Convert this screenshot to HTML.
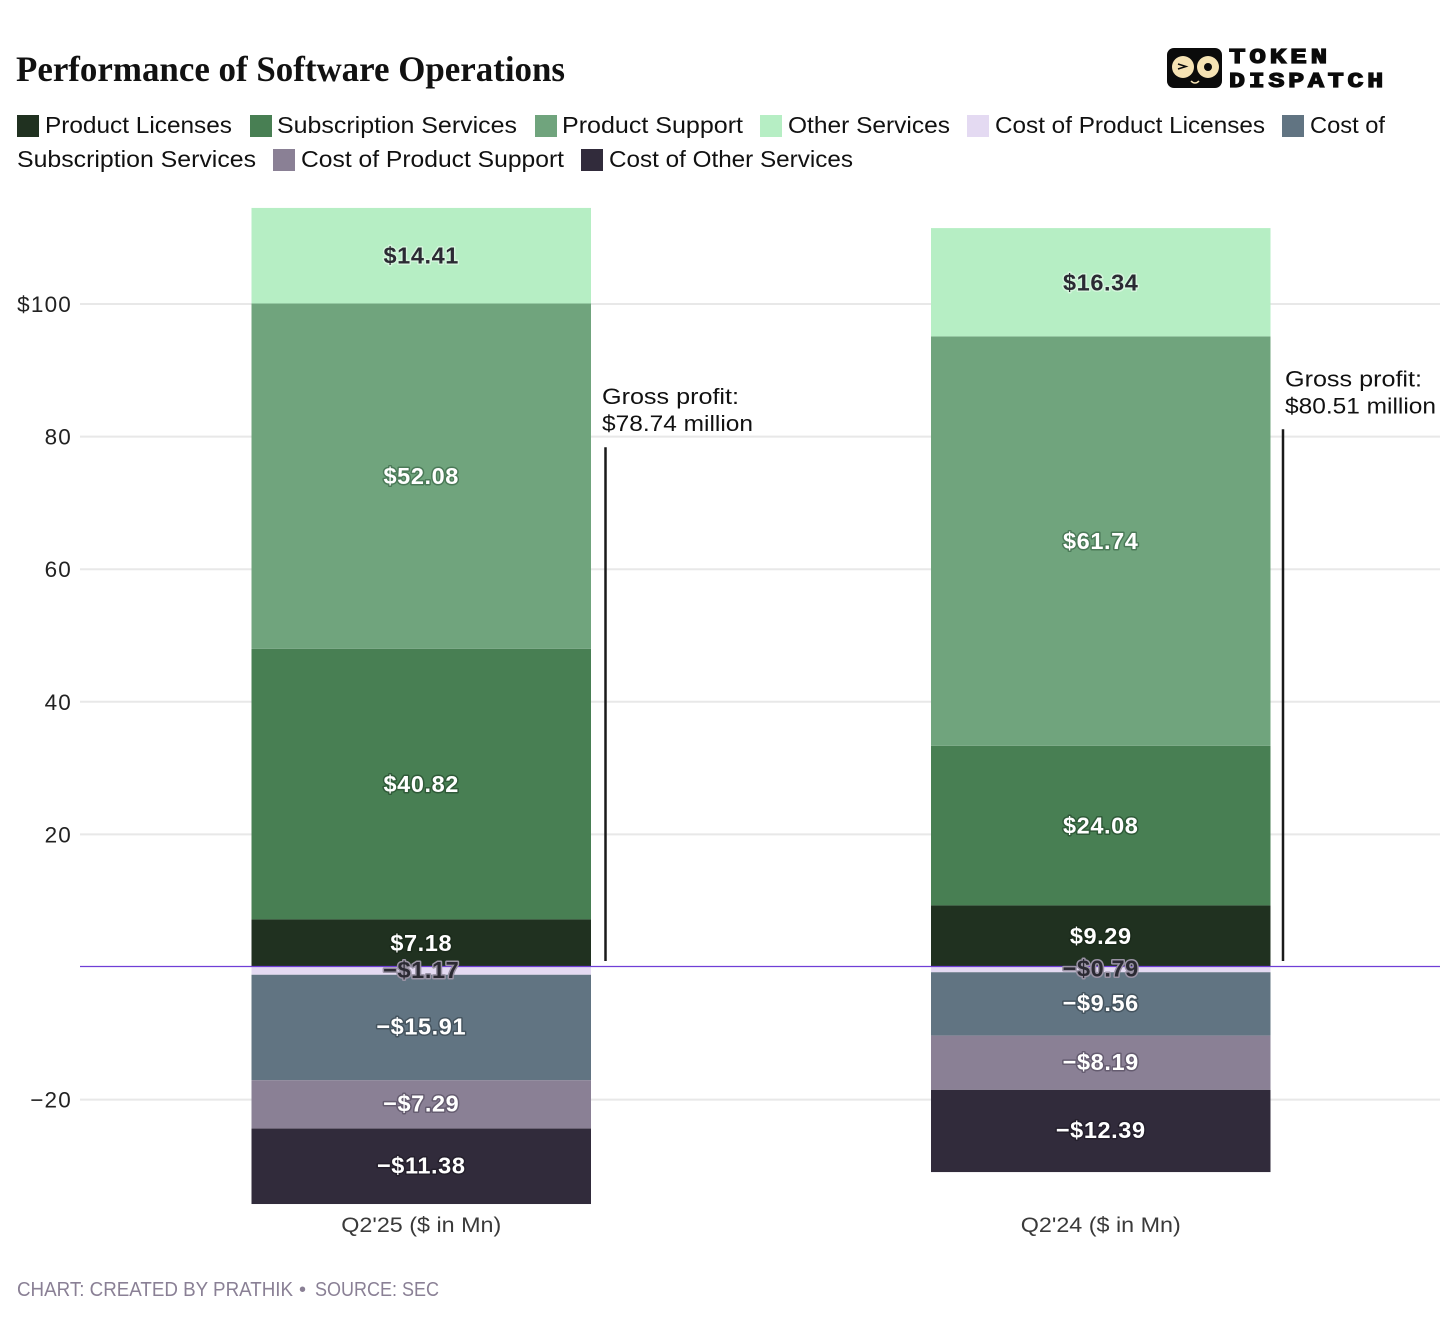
<!DOCTYPE html>
<html lang="en">
<head>
<meta charset="utf-8">
<title>Performance of Software Operations</title>
<style>
html,body{margin:0;padding:0;background:#fff;width:1456px;height:1332px;overflow:hidden}
svg{display:block}
text{font-family:"Liberation Sans",sans-serif}
.legend-text{font-size:23px;fill:#111}
.tick{font-size:22.5px;fill:#222;text-anchor:end;letter-spacing:1.2px}
.cat{font-size:21.5px;fill:#3a3a3a;text-anchor:middle}
.note{font-size:22.5px;fill:#111}
.seg-label{font-size:23.5px;font-weight:700;text-anchor:middle;paint-order:stroke;stroke-width:3px;stroke-linejoin:round;letter-spacing:.6px}
.logo-word{font-family:"Liberation Mono",monospace;font-weight:700;font-size:21px;fill:#0b0b0b;stroke:#0b0b0b;stroke-width:1.2px;letter-spacing:3px}
</style>
</head>
<body>
<svg id="chart" xmlns="http://www.w3.org/2000/svg" width="1456" height="1332" viewBox="0 0 1456 1332">
  <rect width="1456" height="1332" fill="#fff"/>
  <text x="16" y="81" textLength="549" lengthAdjust="spacingAndGlyphs" style="font-family:'Liberation Serif',serif;font-weight:700;font-size:36px;fill:#111">Performance of Software Operations</text>

  <g>
    <rect x="1167" y="48" width="55" height="40" rx="7" fill="#0b0b0b"/>
    <circle cx="1183" cy="67" r="11" fill="#f6e3b4"/>
    <circle cx="1208" cy="67" r="11" fill="#f6e3b4"/>
    <circle cx="1208" cy="67" r="4" fill="#0b0b0b"/>
    <path d="M1178 64l8 2.500-8 2.500" fill="none" stroke="#0b0b0b" stroke-width="1.500"/>
    <path d="M1191 81q4 4 8 0" fill="none" stroke="#f6e3b4" stroke-width="1.500"/>
    <text class="logo-word" x="1229" y="63" textLength="102" lengthAdjust="spacingAndGlyphs">TOKEN</text>
    <text class="logo-word" x="1229" y="87" textLength="158" lengthAdjust="spacingAndGlyphs">DISPATCH</text>
  </g>

  <g>
    <g>
      <rect x="17" y="115" width="22" height="22" fill="#203120"/>
      <text class="legend-text" x="45" y="133" textLength="187" lengthAdjust="spacingAndGlyphs">Product Licenses</text>
    </g>
    <g>
      <rect x="250" y="115" width="22" height="22" fill="#487f53"/>
      <text class="legend-text" x="277" y="133" textLength="240" lengthAdjust="spacingAndGlyphs">Subscription Services</text>
    </g>
    <g>
      <rect x="535" y="115" width="22" height="22" fill="#70a47d"/>
      <text class="legend-text" x="562" y="133" textLength="181" lengthAdjust="spacingAndGlyphs">Product Support</text>
    </g>
    <g>
      <rect x="760" y="115" width="22" height="22" fill="#b6eec4"/>
      <text class="legend-text" x="788" y="133" textLength="162" lengthAdjust="spacingAndGlyphs">Other Services</text>
    </g>
    <g>
      <rect x="967" y="115" width="22" height="22" fill="#e4daf2"/>
      <text class="legend-text" x="995" y="133" textLength="270" lengthAdjust="spacingAndGlyphs">Cost of Product Licenses</text>
    </g>
    <g>
      <rect x="1282" y="115" width="22" height="22" fill="#617482"/>
      <text class="legend-text" x="1310" y="133" textLength="75" lengthAdjust="spacingAndGlyphs">Cost of</text>
      <text class="legend-text" x="17" y="167" textLength="239" lengthAdjust="spacingAndGlyphs">Subscription Services</text>
    </g>
    <g>
      <rect x="273" y="149" width="22" height="22" fill="#8a8095"/>
      <text class="legend-text" x="301" y="167" textLength="263" lengthAdjust="spacingAndGlyphs">Cost of Product Support</text>
    </g>
    <g>
      <rect x="581" y="149" width="22" height="22" fill="#312b3b"/>
      <text class="legend-text" x="609" y="167" textLength="244" lengthAdjust="spacingAndGlyphs">Cost of Other Services</text>
    </g>
  </g>

  <g id="grid"></g>
  <g id="bars"></g>
  <g id="labels"></g>
  <g id="notes"></g>
  <g id="cats"></g>

  <text style="font-size:20px;fill:#8a8095"><tspan x="17" y="1296" textLength="276" lengthAdjust="spacingAndGlyphs">CHART: CREATED BY PRATHIK</tspan><tspan x="299" y="1296">•</tspan><tspan x="315" y="1296" textLength="124" lengthAdjust="spacingAndGlyphs">SOURCE: SEC</tspan></text>
</svg>

<script>
var categories = ["Q2'25 ($ in Mn)", "Q2'24 ($ in Mn)"];
var productLicenses = [7.18, 9.29];
var subscriptionServices = [40.82, 24.08];
var productSupport = [52.08, 61.74];
var otherServices = [14.41, 16.34];
var costProductLicenses = [-1.17, -0.79];
var costSubscriptionServices = [-15.91, -9.56];
var costProductSupport = [-7.29, -8.19];
var costOtherServices = [-11.38, -12.39];
var tickValues = [-20, 20, 40, 60, 80, 100];
var tickLabels = ["\u221220", "20", "40", "60", "80", "$100"];
var grossProfit = [78.74, 80.51];
var grossProfitBracketTop = [78.4, 81.1];
var grossProfitHeading = ["Gross profit:", "Gross profit:"];
var grossProfitText = ["$78.74 million", "$80.51 million"];

var NS = 'http://www.w3.org/2000/svg';
var zeroY = 967, pxPerUnit = 6.63;
function yScale(v) { return zeroY - v * pxPerUnit; }
var barLeft = 251.5, barStep = 679.5, barWidth = 339.5;
function xScale(i) { return barLeft + i * barStep; }
function make(tag, parent) {
  var el = document.createElementNS(NS, tag);
  parent.appendChild(el);
  return el;
}
function money(v) {
  return (v < 0 ? '\u2212$' : '$') + Math.abs(v).toFixed(2);
}

var stacks = [
  {key: 'product-licenses', values: productLicenses, fill: '#203120', text: '#fff', halo: '#1a2a1a'},
  {key: 'subscription-services', values: subscriptionServices, fill: '#487f53', text: '#fff', halo: '#2f5a38'},
  {key: 'product-support', values: productSupport, fill: '#70a47d', text: '#fff', halo: '#4b7a58'},
  {key: 'other-services', values: otherServices, fill: '#b6eec4', text: '#2b2a33', halo: '#d4f5dc'},
  {key: 'cost-product-licenses', values: costProductLicenses, fill: '#e4daf2', text: '#2b2a33', halo: '#9a93a5'},
  {key: 'cost-subscription-services', values: costSubscriptionServices, fill: '#617482', text: '#fff', halo: '#45545f'},
  {key: 'cost-product-support', values: costProductSupport, fill: '#8a8095', text: '#fff', halo: '#655c70'},
  {key: 'cost-other-services', values: costOtherServices, fill: '#312b3b', text: '#fff', halo: '#241f2c'}
];

var grid = document.getElementById('grid');
tickValues.forEach(function (t, i) {
  var line = make('line', grid);
  
  
  line.setAttribute('x1', 80);
  line.setAttribute('x2', 1440);
  line.setAttribute('y1', yScale(t));
  line.setAttribute('y2', yScale(t));
  line.setAttribute('stroke', '#e8e8e8');
  line.setAttribute('stroke-width', 2);
  var label = make('text', grid);
  
  
  label.setAttribute('class', 'tick');
  label.setAttribute('x', 72);
  label.setAttribute('y', yScale(t) + 8);
  label.textContent = tickLabels[i];
});

var bars = document.getElementById('bars');
var labels = document.getElementById('labels');
categories.forEach(function (cat, i) {
  var pos = 0, neg = 0;
  stacks.forEach(function (s) {
    var v = s.values[i];
    var start = v >= 0 ? pos : neg;
    var end = start + v;
    if (v >= 0) { pos = end; } else { neg = end; }
    var top = Math.min(yScale(start), yScale(end));
    var h = Math.abs(yScale(start) - yScale(end));
    var rect = make('rect', bars);
    
    
    rect.setAttribute('x', xScale(i));
    rect.setAttribute('y', top);
    rect.setAttribute('width', barWidth);
    rect.setAttribute('height', h);
    rect.setAttribute('fill', s.fill);
    var t = make('text', labels);
    
    
    t.setAttribute('class', 'seg-label');
    t.setAttribute('x', xScale(i) + barWidth / 2);
    t.setAttribute('y', top + h / 2 + (v >= 0 ? 8 : 7));
    t.setAttribute('fill', s.text);
    t.setAttribute('stroke', s.halo);
    t.textContent = money(v);
  });
});

var baseline = make('line', labels);


baseline.setAttribute('x1', 80);
baseline.setAttribute('x2', 1440);
baseline.setAttribute('y1', yScale(0) - 0.5);
baseline.setAttribute('y2', yScale(0) - 0.5);
baseline.setAttribute('stroke', '#6f3fd6');
baseline.setAttribute('stroke-width', 1.2);
labels.insertBefore(baseline, labels.firstChild);

var notes = document.getElementById('notes');
var noteTextX = [602, 1285];
var noteLineX = [605.5, 1283];
grossProfit.forEach(function (g, i) {
  var top = yScale(grossProfitBracketTop[i]);
  var line = make('line', notes);
  
  
  line.setAttribute('x1', noteLineX[i]);
  line.setAttribute('x2', noteLineX[i]);
  line.setAttribute('y1', top);
  line.setAttribute('y2', 961);
  line.setAttribute('stroke', '#1a1a1a');
  line.setAttribute('stroke-width', 2.5);
  var a = make('text', notes);
  
  
  a.setAttribute('class', 'note');
  a.setAttribute('x', noteTextX[i]);
  a.setAttribute('y', top - 43);
  a.setAttribute('textLength', 137);
  a.setAttribute('lengthAdjust', 'spacingAndGlyphs');
  a.textContent = grossProfitHeading[i];
  var b = make('text', notes);
  
  
  b.setAttribute('class', 'note');
  b.setAttribute('x', noteTextX[i]);
  b.setAttribute('y', top - 16);
  b.setAttribute('textLength', 151);
  b.setAttribute('lengthAdjust', 'spacingAndGlyphs');
  b.textContent = grossProfitText[i];
});

var cats = document.getElementById('cats');
categories.forEach(function (c, i) {
  var t = make('text', cats);
  
  
  t.setAttribute('class', 'cat');
  t.setAttribute('x', xScale(i) + barWidth / 2);
  t.setAttribute('y', 1232);
  t.setAttribute('textLength', 160);
  t.setAttribute('lengthAdjust', 'spacingAndGlyphs');
  t.textContent = c;
});
</script>
</body>
</html>
